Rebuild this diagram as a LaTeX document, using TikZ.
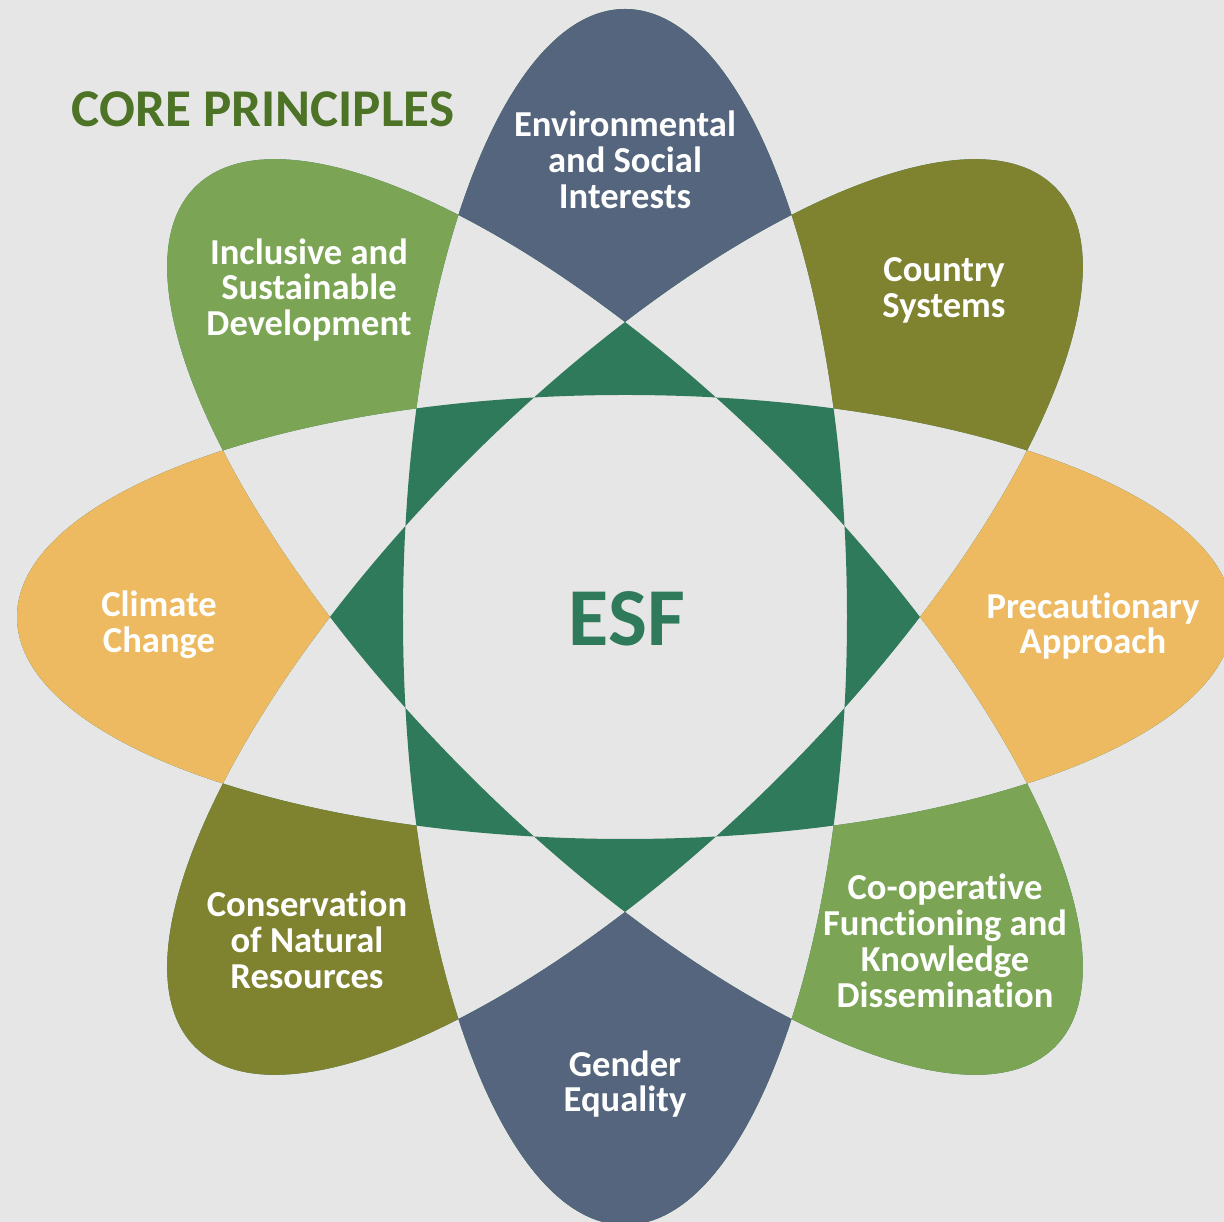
\documentclass[tikz,border=0pt]{standalone}
\usepackage{fontspec}
\setmainfont{Carlito}[Ligatures=NoCommon]

\definecolor{bggray}{HTML}{E7E6E6}
\definecolor{slate}{HTML}{54657D}
\definecolor{olive}{HTML}{7F8330}
\definecolor{leafgreen}{HTML}{7BA454}
\definecolor{sunyellow}{HTML}{EDBA62}
\definecolor{esfgreen}{HTML}{2E7A5A}
\definecolor{titlegreen}{HTML}{4D7326}

\tikzset{
  petallabel/.style={text=white, font=\bfseries\fontsize{10.4}{10.2}\selectfont, align=center, inner sep=0pt},
  petalshape/.style={x radius=608, y radius=222, rotate=#1},
}

\begin{document}
\begin{tikzpicture}[x=0.01cm,y=0.01cm]
\useasboundingbox (-625,-605) rectangle (599,617);
\clip (-625,-605) rectangle (599,617);
\fill[bggray] (-625,-605) rectangle (599,617);
% where three petals overlap
\fill[esfgreen,even odd rule] (0,0) ellipse[petalshape=0] (0,0) ellipse[petalshape=45]
  (0,0) ellipse[petalshape=90] (0,0) ellipse[petalshape=135];
% petal tips, outside the other three petals (frame clockwise, ellipse anticlockwise)
\foreach \ang/\col in {0/sunyellow,45/olive,90/slate,135/leafgreen}{
  \begin{scope}
    \pgfmathsetmacro\oa{\ang+45}
    \pgfmathsetmacro\ob{\ang+90}
    \pgfmathsetmacro\oc{\ang+135}
    \clip (-700,-700) -- (-700,700) -- (700,700) -- (700,-700) -- cycle (0,0) ellipse[petalshape=\oa];
    \clip (-700,-700) -- (-700,700) -- (700,700) -- (700,-700) -- cycle (0,0) ellipse[petalshape=\ob];
    \clip (-700,-700) -- (-700,700) -- (700,700) -- (700,-700) -- cycle (0,0) ellipse[petalshape=\oc];
    \fill[\col] (0,0) ellipse[petalshape=\ang];
  \end{scope}
}

\node[text=titlegreen, font=\bfseries\fontsize{15.1}{15.1}\selectfont, inner sep=0pt] (title) at (-362,508) {CORE PRINCIPLES};
\node[text=esfgreen, font=\bfseries\fontsize{23.4}{23.4}\selectfont, inner sep=0pt] (esf) at (2,-2) {ESF};

\node[petallabel] (envsoc) at (0,457) {Environmental\\and Social\\Interests};
\node[petallabel] (country) at (319,327) {Country\\Systems};
\node[petallabel] (precaution) at (468,-9) {Precautionary\\Approach};
\node[petallabel] (coop) at (320,-324) {Co-operative\\Functioning and\\Knowledge\\Dissemination};
\node[petallabel] (gender) at (0,-467) {Gender\\Equality};
\node[petallabel] (conserv) at (-318,-323) {Conservation\\of Natural\\Resources};
\node[petallabel] (climate) at (-466,-8) {Climate\\Change};
\node[petallabel] (inclusive) at (-316,327) {Inclusive and\\Sustainable\\Development};
\end{tikzpicture}
\end{document}
